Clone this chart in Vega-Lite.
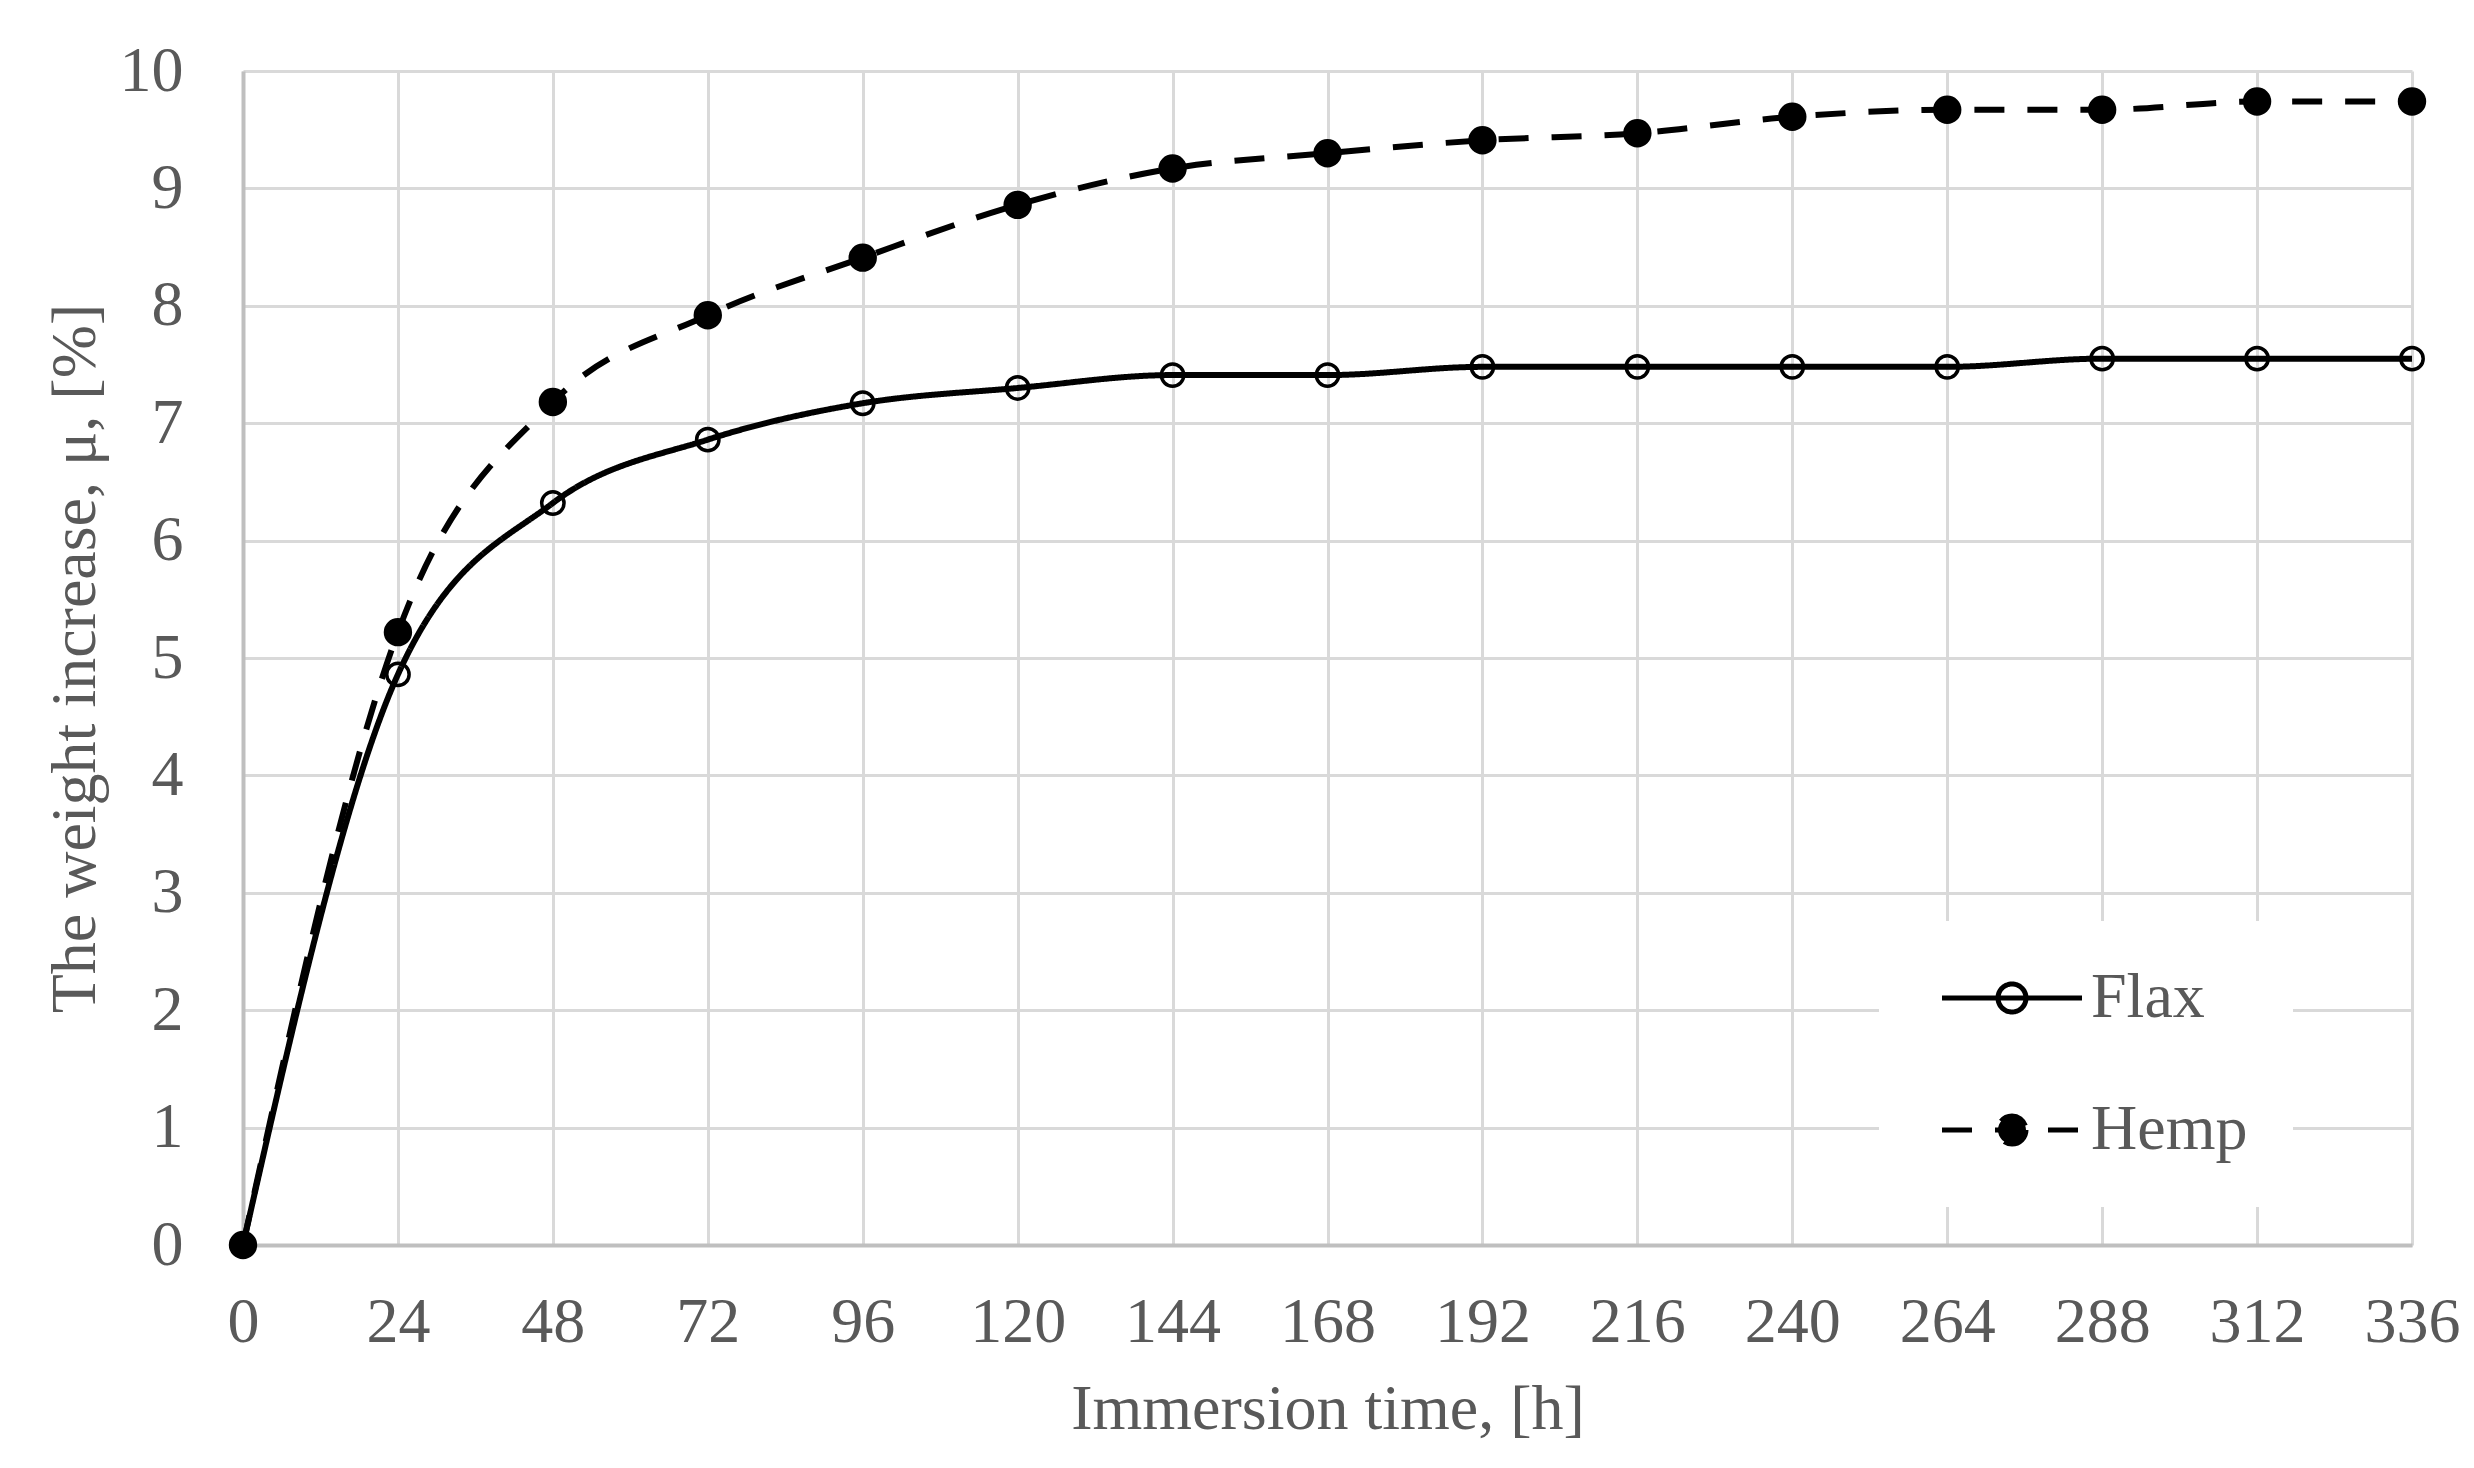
{
  "$schema": "https://vega.github.io/schema/vega-lite/v6.json",
  "width": 2169,
  "height": 1174,
  "autosize": {"type": "none"},
  "padding": {"left": 243, "top": 71, "right": 62, "bottom": 223},
  "background": "white",
  "config": {
    "font": "Liberation Serif",
    "view": {"stroke": null},
    "axis": {
      "labelFont": "Liberation Serif",
      "labelFontSize": 64,
      "labelColor": "#595959",
      "titleFont": "Liberation Serif",
      "titleFontSize": 64,
      "titleColor": "#595959",
      "titleFontWeight": "normal",
      "gridColor": "#d9d9d9",
      "gridWidth": 3,
      "gridOpacity": 1,
      "domainColor": "#bfbfbf",
      "domainWidth": 4,
      "ticks": false,
      "tickSize": 0,
      "labelFlush": false,
      "labelOverlap": false
    }
  },
  "data": {
    "values": [
      {"series": "Flax", "time": 0, "mu": 0},
      {"series": "Flax", "time": 24, "mu": 4.86},
      {"series": "Flax", "time": 48, "mu": 6.32},
      {"series": "Flax", "time": 72, "mu": 6.86},
      {"series": "Flax", "time": 96, "mu": 7.17},
      {"series": "Flax", "time": 120, "mu": 7.3},
      {"series": "Flax", "time": 144, "mu": 7.41},
      {"series": "Flax", "time": 168, "mu": 7.41},
      {"series": "Flax", "time": 192, "mu": 7.48},
      {"series": "Flax", "time": 216, "mu": 7.48},
      {"series": "Flax", "time": 240, "mu": 7.48},
      {"series": "Flax", "time": 264, "mu": 7.48},
      {"series": "Flax", "time": 288, "mu": 7.55},
      {"series": "Flax", "time": 312, "mu": 7.55},
      {"series": "Flax", "time": 336, "mu": 7.55},
      {"series": "Hemp", "time": 0, "mu": 0},
      {"series": "Hemp", "time": 24, "mu": 5.22},
      {"series": "Hemp", "time": 48, "mu": 7.18},
      {"series": "Hemp", "time": 72, "mu": 7.92},
      {"series": "Hemp", "time": 96, "mu": 8.41},
      {"series": "Hemp", "time": 120, "mu": 8.86},
      {"series": "Hemp", "time": 144, "mu": 9.17},
      {"series": "Hemp", "time": 168, "mu": 9.3},
      {"series": "Hemp", "time": 192, "mu": 9.41},
      {"series": "Hemp", "time": 216, "mu": 9.47},
      {"series": "Hemp", "time": 240, "mu": 9.61},
      {"series": "Hemp", "time": 264, "mu": 9.67},
      {"series": "Hemp", "time": 288, "mu": 9.67},
      {"series": "Hemp", "time": 312, "mu": 9.74},
      {"series": "Hemp", "time": 336, "mu": 9.74}
    ]
  },
  "encoding": {
    "x": {
      "field": "time",
      "type": "quantitative",
      "scale": {"domain": [0, 336], "nice": false},
      "axis": {
        "values": [0, 24, 48, 72, 96, 120, 144, 168, 192, 216, 240, 264, 288, 312, 336],
        "title": "Immersion time, [h]",
        "labelPadding": 45,
        "titlePadding": 23
      }
    },
    "y": {
      "field": "mu",
      "type": "quantitative",
      "scale": {"domain": [0, 10], "nice": false},
      "axis": {
        "values": [0, 1, 2, 3, 4, 5, 6, 7, 8, 9, 10],
        "title": "The weight increase, μ, [%]",
        "labelPadding": 60,
        "titlePadding": 12
      }
    }
  },
  "layer": [
    {
      "mark": {"type": "line", "interpolate": "monotone", "color": "black", "strokeWidth": 6, "strokeCap": "butt"},
      "encoding": {
        "strokeDash": {
          "field": "series",
          "type": "nominal",
          "scale": {"domain": ["Flax", "Hemp"], "range": [[1, 0], [30, 23]]}
        }
      }
    },
    {
      "mark": {"type": "point", "filled": true, "stroke": "black", "strokeWidth": 3.5, "opacity": 1},
      "encoding": {
        "size": {
          "field": "series",
          "type": "nominal",
          "scale": {"range": [500, 620]},
          "legend": null
        },
        "fill": {
          "field": "series",
          "type": "nominal",
          "scale": {"domain": ["Flax", "Hemp"], "range": ["transparent", "black"]},
          "legend": {
            "title": null,
            "orient": "none",
            "legendX": 1636,
            "legendY": 850,
            "fillColor": "white",
            "padding": 45,
            "labelFont": "Liberation Serif",
            "labelFontSize": 64,
            "labelColor": "#595959",
            "labelLimit": 400,
            "labelOffset": 103,
            "rowPadding": 68,
            "symbolSize": 784,
            "symbolStrokeWidth": 5,
            "symbolStrokeColor": "black",
            "symbolType": "M-1,0H9M5,0A1,1,0,1,1,3,0A1,1,0,1,1,5,0",
            "encode": {
              "symbols": {
                "shape": {"value": "M-1,0H9M5,0A1,1,0,1,1,3,0A1,1,0,1,1,5,0"},
                "size": {"value": 784},
                "stroke": {"value": "black"},
                "strokeWidth": {"value": 5},
                "opacity": {"value": 1}
              }
            }
          }
        }
      }
    }
  ]
}
